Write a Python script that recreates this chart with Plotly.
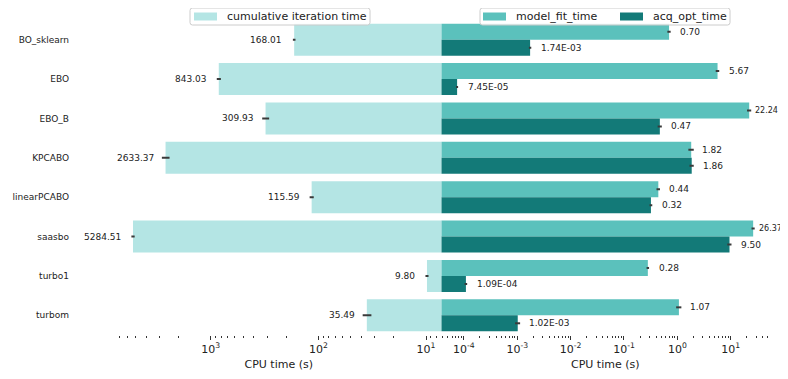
import numpy as np
import plotly.graph_objects as go

methods = ["BO_sklearn", "EBO", "EBO_B", "KPCABO", "linearPCABO", "saasbo", "turbo1", "turbom"]
cumulative_time = [168.01, 843.03, 309.93, 2633.37, 115.59, 5284.51, 9.80, 35.49]
cumulative_err = [4.7, 37, 23, 216, 5.1, 185, 0.32, 3.3]
model_fit_time = [0.70, 5.67, 22.24, 1.82, 0.44, 26.37, 0.28, 1.07]
model_fit_err = [0.05, 0.43, 2.0, 0.21, 0.033, 1.8, 0.015, 0.12]
acq_opt_time = [1.74e-03, 7.45e-05, 0.47, 1.86, 0.32, 9.50, 1.09e-04, 1.02e-03]
acq_opt_err = [9e-05, 3.3e-06, 0.042, 0.17, 0.019, 0.85, 6e-06, 1.1e-04]

left_ticks = [1000, 100, 10]
left_ticktext = ["10<sup>3</sup>", "10<sup>2</sup>", "10<sup>1</sup>"]
right_ticks = [1e-4, 1e-3, 1e-2, 1e-1, 1e0, 1e1]
right_ticktext = ["10<sup>-4</sup>", "10<sup>-3</sup>", "10<sup>-2</sup>", "10<sup>-1</sup>", "10<sup>0</sup>", "10<sup>1</sup>"]

C_CUM = "#b4e5e4"
C_FIT = "#5bc1bc"
C_ACQ = "#137a78"
ERR_C = "#3a3a3a"
FONT = "DejaVu Sans"
TXT = "#222222"

# figure geometry (the page body adds an 8px offset)
FIG_W, FIG_H = 780, 363
ML, MR, MT, MB = 108, 19, 12, 36
PW = FIG_W - ML - MR
PH = FIG_H - MT - MB
OFF = 8


def px(xw):
    return (xw - OFF - ML) / PW


def py(yw):
    return 1 - (yw - OFF - MT) / PH


def fmt(v):
    return "%.2E" % v if v < 0.01 else "%.2f" % v


def minor_vals(lo_exp, hi_exp):
    out = []
    for e in range(lo_exp, hi_exp + 1):
        for m in range(2, 10):
            out.append(m * 10.0 ** e)
    return out


fig = go.Figure()
fig.add_trace(go.Bar(
    y=methods, x=cumulative_time, orientation="h", name="cumulative iteration time",
    marker=dict(color=C_CUM, line=dict(width=0)),
    error_x=dict(type="data", array=cumulative_err, color=ERR_C, thickness=2, width=0),
    xaxis="x", yaxis="y", showlegend=False,
))
fig.add_trace(go.Bar(
    y=methods, x=model_fit_time, orientation="h", name="model_fit_time",
    marker=dict(color=C_FIT, line=dict(width=0)),
    error_x=dict(type="data", array=model_fit_err, color=ERR_C, thickness=2, width=0),
    xaxis="x2", yaxis="y2", showlegend=False,
))
fig.add_trace(go.Bar(
    y=methods, x=acq_opt_time, orientation="h", name="acq_opt_time",
    marker=dict(color=C_ACQ, line=dict(width=0)),
    error_x=dict(type="data", array=acq_opt_err, color=ERR_C, thickness=2, width=0),
    xaxis="x2", yaxis="y2", showlegend=False,
))


def right_label(m, v, yshift):
    # labels that would run past the visible right edge are tucked in slightly
    near_edge = v > 20
    return dict(x=np.log10(v), y=m, xref="x2", yref="y2", text=fmt(v), showarrow=False,
                xanchor="left", xshift=4 if near_edge else 9, yshift=yshift,
                font=dict(size=8 if near_edge else 9, color=TXT, family=FONT))


ann = []
for m, v in zip(methods, cumulative_time):
    ann.append(dict(x=np.log10(v), y=m, xref="x", yref="y", text=fmt(v), showarrow=False,
                    xanchor="right", xshift=-10, font=dict(size=9, color=TXT, family=FONT)))
for m, v in zip(methods, model_fit_time):
    ann.append(right_label(m, v, 8))
for m, v in zip(methods, acq_opt_time):
    ann.append(right_label(m, v, -8))

# manual legends (window pixel layout)
shapes = []
LEG_TOP, LEG_BOT = 8, 25
LEG_MID = (LEG_TOP + LEG_BOT) / 2


def rounded_box(x0, x1, y0, y1, r=2.5):
    X = lambda v: px(v)
    Y = lambda v: py(v)
    return (f"M {X(x0 + r)},{Y(y0)} L {X(x1 - r)},{Y(y0)} Q {X(x1)},{Y(y0)} {X(x1)},{Y(y0 + r)} "
            f"L {X(x1)},{Y(y1 - r)} Q {X(x1)},{Y(y1)} {X(x1 - r)},{Y(y1)} "
            f"L {X(x0 + r)},{Y(y1)} Q {X(x0)},{Y(y1)} {X(x0)},{Y(y1 - r)} "
            f"L {X(x0)},{Y(y0 + r)} Q {X(x0)},{Y(y0)} {X(x0 + r)},{Y(y0)} Z")


legend_boxes = [(190, 370), (480, 730)]
legend_items = [("cumulative iteration time", C_CUM, 194),
                ("model_fit_time", C_FIT, 483),
                ("acq_opt_time", C_ACQ, 620)]
for x0, x1 in legend_boxes:
    shapes.append(dict(type="path", xref="paper", yref="paper", path=rounded_box(x0, x1, LEG_TOP, LEG_BOT),
                       line=dict(color="#cccccc", width=1), fillcolor="rgba(255,255,255,0.8)", layer="above"))
for name, col, x0 in legend_items:
    shapes.append(dict(type="rect", xref="paper", yref="paper", x0=px(x0), x1=px(x0 + 23),
                       y0=py(LEG_MID - 4), y1=py(LEG_MID + 4), line=dict(width=0), fillcolor=col, layer="above"))
    ann.append(dict(x=px(x0 + 31), y=py(LEG_MID), xref="paper", yref="paper", text=name, showarrow=False,
                    xanchor="left", yanchor="middle", font=dict(size=11, color=TXT, family=FONT)))

axis_common = dict(
    type="log", showgrid=False, zeroline=False, showline=False, automargin=False,
    ticks="outside", ticklen=3.5, tickwidth=0.8, tickcolor="#333333",
    tickfont=dict(size=11, color=TXT, family=FONT),
    title=dict(text="CPU time (s)", font=dict(size=11, color=TXT, family=FONT), standoff=6),
)

fig.update_layout(
    width=FIG_W, height=FIG_H,
    margin=dict(l=ML, r=MR, t=MT, b=MB, autoexpand=False),
    paper_bgcolor="white", plot_bgcolor="white",
    showlegend=False,
    barmode="group", bargap=0.19, bargroupgap=0,
    font=dict(family=FONT, size=11, color=TXT),
    xaxis=dict(domain=[0, 0.4985], range=[3.881, 0.856], tickmode="array",
               tickvals=left_ticks, ticktext=left_ticktext,
               minor=dict(tickmode="array", tickvals=minor_vals(0, 3), ticks="outside",
                          ticklen=2, tickwidth=0.7, tickcolor="#333333", showgrid=False),
               anchor="y", **axis_common),
    xaxis2=dict(domain=[0.4985, 1], range=[-4.42, 1.718], tickmode="array",
                tickvals=right_ticks, ticktext=right_ticktext,
                minor=dict(tickmode="array", tickvals=minor_vals(-5, 1), ticks="outside",
                           ticklen=2, tickwidth=0.7, tickcolor="#333333", showgrid=False),
                anchor="y2", **axis_common),
    yaxis=dict(type="category", categoryorder="array", categoryarray=methods,
               range=[7.5, -0.5], anchor="x", showgrid=False, zeroline=False, showline=False,
               ticks="", ticklabelstandoff=46, automargin=False,
               tickfont=dict(size=9, color=TXT, family=FONT)),
    yaxis2=dict(type="category", categoryorder="array", categoryarray=methods,
                range=[7.5, -0.5], anchor="x2", matches="y", showgrid=False, zeroline=False,
                showline=False, ticks="", showticklabels=False, automargin=False),
    annotations=ann,
    shapes=shapes,
)

fig.write_html("out.html")
